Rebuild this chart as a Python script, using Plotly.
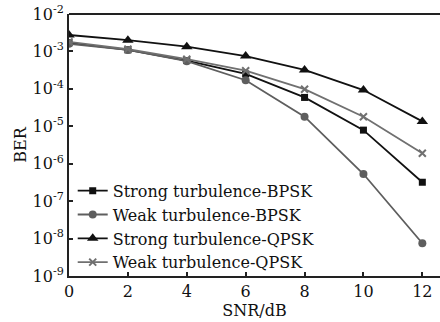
import plotly.graph_objects as go

snr = [0, 2, 4, 6, 8, 10, 12]

strong_bpsk = [1.7e-3, 1.1e-3, 5.7e-4, 2.5e-4, 5.9e-5, 7.9e-6, 3.2e-7]
weak_bpsk = [1.6e-3, 1.1e-3, 5.5e-4, 1.7e-4, 1.8e-5, 5.3e-7, 7.5e-9]
strong_qpsk = [2.75e-3, 2.0e-3, 1.34e-3, 7.5e-4, 3.2e-4, 9.3e-5, 1.35e-5]
weak_qpsk = [1.8e-3, 1.15e-3, 6.2e-4, 3.05e-4, 9.8e-5, 1.8e-5, 1.9e-6]

names = [
    "Strong turbulence-BPSK",
    "Weak turbulence-BPSK",
    "Strong turbulence-QPSK",
    "Weak turbulence-QPSK",
]

y_exponents = [-9, -8, -7, -6, -5, -4, -3, -2]
y_ticktext = [f"10<sup>{k}</sup>" for k in y_exponents]

FONT = "DejaVu Serif, Liberation Serif, serif"
DARK = "#111111"
GREY = "#5e5e5e"
GREY2 = "#707070"

series = [
    (strong_bpsk, names[0], DARK, "square", 7),
    (weak_bpsk, names[1], GREY, "circle", 8),
    (strong_qpsk, names[2], DARK, "triangle-up", 10),
    (weak_qpsk, names[3], GREY2, "x-thin", 7),
]

fig = go.Figure()
for ys, name, color, sym, size in series:
    marker = dict(symbol=sym, size=size, color=color)
    if sym == "x-thin":
        marker["line"] = dict(width=2, color=color)
    fig.add_trace(go.Scatter(
        x=snr, y=ys, name=name, mode="lines+markers",
        line=dict(color=color, width=1.8),
        marker=marker,
    ))

fig.update_layout(
    width=440, height=322,
    margin=dict(l=69, r=0, t=14, b=46),
    paper_bgcolor="white", plot_bgcolor="white",
    font=dict(family=FONT, size=16, color="#111111"),
    showlegend=True,
    legend=dict(
        x=0.01, y=0.39, xanchor="left", yanchor="top",
        bgcolor="rgba(0,0,0,0)", borderwidth=0,
        font=dict(family=FONT, size=16, color="#111111"),
        tracegroupgap=0,
    ),
)

fig.update_xaxes(
    range=[0, 12.6], tickvals=snr,
    ticks="inside", ticklen=4, tickwidth=1.5, tickcolor="#222222",
    showline=True, linewidth=2, linecolor="#222222", mirror=False,
    showgrid=False, zeroline=False,
    title=dict(text="SNR/dB", standoff=0, font=dict(family=FONT, size=16)),
    tickfont=dict(family=FONT, size=16),
)
fig.update_yaxes(
    type="log", range=[-9, -2],
    tickvals=[10.0 ** k for k in y_exponents], ticktext=y_ticktext,
    ticks="inside", ticklen=4, tickwidth=1.5, tickcolor="#222222",
    showline=True, linewidth=2, linecolor="#222222",
    showgrid=False, zeroline=False,
    title=dict(text="BER", standoff=2, font=dict(family=FONT, size=16)),
    tickfont=dict(family=FONT, size=16),
)

# top frame line across the plotting area
fig.add_shape(type="line", xref="paper", yref="paper", x0=0, x1=1, y0=1, y1=1,
              line=dict(color="#222222", width=2))

fig.write_html("out.html")
